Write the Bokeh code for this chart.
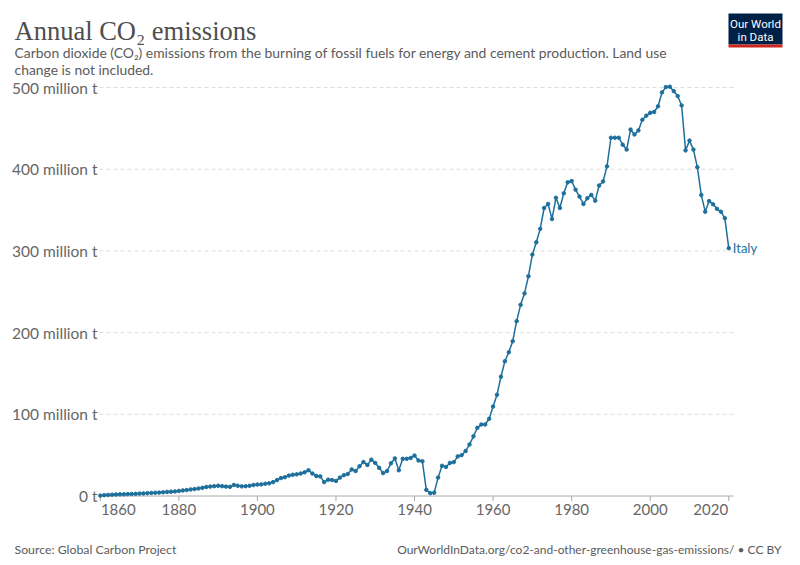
from bokeh.plotting import figure
from bokeh.models import Range1d, ColumnDataSource
from bokeh.embed import file_html
from bokeh.resources import INLINE

# ---------------- data ----------------
years = list(range(1860, 2021))
emissions = [
    0.5, 1.0, 1.3, 1.6, 1.8, 2.0, 2.1, 2.3, 2.5, 2.7,          # 1860-1869
    3.0, 3.2, 3.5, 3.8, 4.0, 4.2, 4.5, 5.0, 5.2, 5.6,          # 1870-1879
    6.2, 6.8, 7.3, 8.0, 8.5, 9.2, 10.0, 11.0, 11.5, 12.0,      # 1880-1889
    12.5, 12.0, 11.5, 11.2, 13.5, 12.5, 11.8, 12.0, 12.5, 13.5, # 1890-1899
    14.0, 14.2, 15.0, 15.5, 17.0, 19.5, 22.0, 23.0, 25.0, 26.0, # 1900-1909
    26.5, 27.5, 29.0, 31.5, 27.5, 24.5, 24.0, 17.0, 20.0, 19.5, # 1910-1919
    18.5, 22.5, 25.5, 27.0, 32.5, 30.5, 36.5, 41.5, 38.0, 44.5, # 1920-1929
    40.5, 34.5, 28.0, 30.5, 40.0, 46.0, 31.5, 45.5, 45.5, 46.5, # 1930-1939
    49.5, 43.5, 42.5, 7.5, 3.5, 4.0, 22.5, 37.0, 35.5, 40.5,    # 1940-1949
    41.5, 48.5, 50.0, 55.0, 63.0, 73.0, 83.5, 87.5, 87.5, 94.5, # 1950-1959
    109.5, 124.0, 146.0, 165.0, 176.0, 189.5, 214.0, 234.0, 248.0, 269.0,   # 1960-1969
    295.5, 310.5, 327.0, 352.5, 357.5, 339.0, 365.0, 352.5, 370.5, 384.0,   # 1970-1979
    385.5, 375.0, 366.5, 357.5, 364.5, 368.5, 361.5, 380.0, 385.0, 403.5,   # 1980-1989
    438.5, 438.5, 438.5, 430.0, 424.0, 448.5, 442.5, 447.5, 460.5, 465.5,   # 1990-1999
    469.0, 470.0, 477.0, 494.0, 500.5, 501.0, 495.5, 489.5, 478.0, 423.0,   # 2000-2009
    435.0, 424.0, 402.5, 368.5, 348.0, 361.0, 357.0, 351.5, 348.0, 340.0,   # 2010-2019
    303.3,                                                                  # 2020
]
country = "Italy"
y_ticks = [0, 100, 200, 300, 400, 500]
y_tick_labels = ["0 t", "100 million t", "200 million t", "300 million t",
                 "400 million t", "500 million t"]
x_ticks = [1860, 1880, 1900, 1920, 1940, 1960, 1980, 2000, 2020]
x_tick_labels = [str(t) for t in x_ticks]

title_text = "Annual CO\u2082 emissions"
subtitle_1 = ("Carbon dioxide (CO\u2082) emissions from the burning of fossil fuels for "
              "energy and cement production. Land use")
subtitle_2 = "change is not included."
source_text = "Source: Global Carbon Project"
url_text = "OurWorldInData.org/co2-and-other-greenhouse-gas-emissions/ \u2022 CC BY"

# ---------------- layout (pixels) ----------------
W, H = 800, 565
PX_YR = 3.928          # pixels per year
PX_MT = 0.817          # pixels per million tonnes
AXIS_X0, AXIS_X1 = 1859.8, 2021.2   # extent of the plotting area in years
AXIS_LEFT_PX = 99      # pixel x of AXIS_X0
ZERO_PX = 495.5        # pixel y (from top) of value 0

x_start = AXIS_X0 - AXIS_LEFT_PX / PX_YR
y_start = -(H - ZERO_PX) / PX_MT


def px_x(px):
    return x_start + px / PX_YR


def px_y(py):
    return y_start + (H - py) / PX_MT


LINE = "#1d6f9c"
GREY = "#666666"
TXT = "#5b5b5b"
FONT = "Lato"

p = figure(width=W, height=H, output_backend="svg", toolbar_location=None,
           x_range=Range1d(x_start, x_start + W / PX_YR),
           y_range=Range1d(y_start, y_start + H / PX_MT),
           x_axis_location=None, y_axis_location=None,
           min_border=0)
p.outline_line_color = None
p.grid.visible = False
p.background_fill_color = "white"
p.border_fill_color = "white"

# gridlines (not at zero)
grid_y = y_ticks[1:]
p.segment(x0=[AXIS_X0] * len(grid_y), x1=[AXIS_X1] * len(grid_y), y0=grid_y, y1=grid_y,
          line_color="#dddddd", line_width=1, line_dash="4 3")

# x axis line and ticks
p.segment(x0=[AXIS_X0], x1=[AXIS_X1], y0=[0], y1=[0], line_color="#aaaaaa", line_width=1)
p.segment(x0=x_ticks, x1=x_ticks, y0=[0] * len(x_ticks), y1=[-5 / PX_MT] * len(x_ticks),
          line_color="#aaaaaa", line_width=1)

# x tick labels (edge labels pushed inside, like the original)
x_offs = [18 if i == 0 else (-18 if i == len(x_ticks) - 1 else 0) for i in range(len(x_ticks))]
p.text(x=x_ticks, y=[-13.5 / PX_MT] * len(x_ticks), text=x_tick_labels, x_offset=x_offs,
       text_align="center", text_baseline="middle",
       text_font={"value": FONT}, text_font_size="15px", text_color=GREY)

# y tick labels
p.text(x=[AXIS_X0] * len(y_ticks), y=y_ticks, text=y_tick_labels, x_offset=-2,
       text_align="right", text_baseline="middle",
       text_font={"value": FONT}, text_font_size="15.5px", text_color=GREY)

# data
src = ColumnDataSource(dict(year=years, value=emissions))
p.line("year", "value", source=src, line_color=LINE, line_width=1.5)
p.scatter("year", "value", source=src, size=3.5, fill_color=LINE, line_color=LINE)

# series label
p.text(x=[years[-1]], y=[emissions[-1]], text=[country], x_offset=4,
       text_align="left", text_baseline="middle",
       text_font={"value": FONT}, text_font_size="13px", text_color=LINE)


def page_text(x, y, text, font, size, color, align="left", baseline="alphabetic"):
    p.text(x=[px_x(x)], y=[px_y(y)], text=[text], text_align=align, text_baseline=baseline,
           text_font={"value": font}, text_font_size=size, text_color=color)


# title / subtitle
page_text(14, 30, title_text, "Liberation Serif", "26.5px", "#4e4e4e")
page_text(14, 52, subtitle_1, FONT, "13.9px", TXT)
page_text(14, 69, subtitle_2, FONT, "13.9px", TXT)

# footer
page_text(14, 548.5, source_text, FONT, "12.3px", TXT)
page_text(781, 548.5, url_text, FONT, "12.0px", TXT, align="right")

# logo
p.quad(left=[px_x(728)], right=[px_x(782)], top=[px_y(13)], bottom=[px_y(44)],
       fill_color="#002147", line_color=None)
p.quad(left=[px_x(728)], right=[px_x(782)], top=[px_y(44)], bottom=[px_y(47)],
       fill_color="#ce261e", line_color=None)
page_text(755, 23.5, "Our World", "Roboto", "11.5px", "white", align="center", baseline="middle")
page_text(755, 36, "in Data", "Roboto", "11.5px", "white", align="center", baseline="middle")

open("out.html", "w").write(file_html(p, INLINE))
